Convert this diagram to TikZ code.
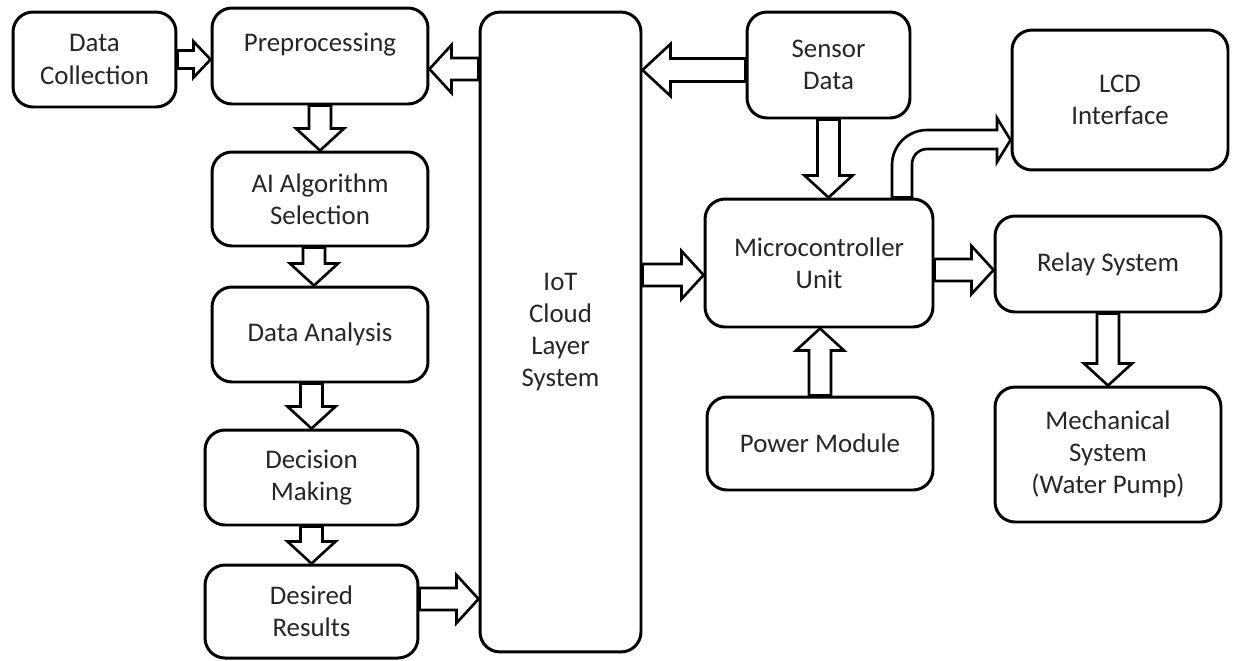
\documentclass[tikz,border=0pt]{standalone}
\usepackage{fontspec}
\setmainfont{Carlito}
\usetikzlibrary{calc}

% outlined block arrow from #1 to #2: shaft half-width, head half-width, head length
\newcommand\blockarrow[5]{%
  \path (#1) coordinate (ba-s) (#2) coordinate (ba-e);
  \coordinate (ba-h) at ($(ba-e)!#5!(ba-s)$);
  \draw[fat] ($(ba-s)!#3!90:(ba-e)$) -- ($(ba-h)!#3!90:(ba-e)$)
    -- ($(ba-h)!#4!90:(ba-e)$) -- (ba-e) -- ($(ba-h)!#4!-90:(ba-e)$)
    -- ($(ba-h)!#3!-90:(ba-e)$) -- ($(ba-s)!#3!-90:(ba-e)$) -- cycle;
}
\newcommand\stdarrow[2]{\blockarrow{#1}{#2}{0.22cm}{0.48cm}{0.44cm}}

\tikzset{
  box/.style={draw=black, line width=1.7pt, rounded corners=0.4cm, fill=white,
    align=center, inner sep=0pt, text=black!85,
    font=\fontsize{15.3pt}{18.3pt}\selectfont},
  fat/.style={draw=black, line width=1.5pt, fill=white, line join=miter}
}

\begin{document}
\begin{tikzpicture}[x=0.02cm, y=-0.02cm]
\useasboundingbox (0,0) rectangle (1239,660);

% left column: processing chain
\node[box, minimum width=3.26cm, minimum height=1.9cm] (dc) at (94.5,59.5) {Data\\Collection};
\node[box, minimum width=4.32cm, minimum height=1.92cm] (pre) at (320,56) {};
\node[text=black!85, font=\fontsize{15.3pt}{18.3pt}\selectfont] (pret) at (320,45) {Preprocessing};
\node[box, minimum width=4.32cm, minimum height=1.88cm] (ai) at (320,199) {AI Algorithm\\Selection};
\node[box, minimum width=4.32cm, minimum height=1.9cm] (da) at (320,334.5) {Data Analysis};
\node[box, minimum width=4.26cm, minimum height=1.9cm] (dm) at (311.5,477.5) {Decision\\Making};
\node[box, minimum width=4.26cm, minimum height=1.86cm] (dr) at (311.5,611.5) {Desired\\Results};

% cloud layer
\node[box, minimum width=3.22cm, minimum height=12.8cm] (iot) at (560.5,332) {IoT\\Cloud\\Layer\\System};

% hardware side
\node[box, minimum width=3.26cm, minimum height=2.12cm] (sd) at (828.5,65) {Sensor\\Data};
\node[box, minimum width=4.32cm, minimum height=2.8cm] (lcd) at (1120,100) {LCD\\Interface};
\node[box, minimum width=4.56cm, minimum height=2.56cm] (mcu) at (819,263) {Microcontroller\\Unit};
\node[box, minimum width=4.52cm, minimum height=1.92cm] (rel) at (1108,264) {Relay System};
\node[box, minimum width=4.52cm, minimum height=1.86cm] (pm) at (820,443.5) {Power Module};
\node[box, minimum width=4.52cm, minimum height=2.7cm] (mech) at (1108,454.5) {Mechanical\\System\\(Water Pump)};

% connectors
\blockarrow{dc.east}{pre.west |- dc.east}{0.18cm}{0.36cm}{0.34cm}
\stdarrow{pre.south}{ai.north}
\stdarrow{[xshift=-0.12cm]ai.south}{[xshift=-0.12cm]da.north}
\stdarrow{dm.north |- da.south}{dm.north}
\stdarrow{dm.south}{dr.north}
\coordinate (a6) at ([yshift=0.25cm]dr.east);
\stdarrow{a6}{iot.west |- a6}
\coordinate (a7) at ([yshift=-0.26cm]pre.east);
\stdarrow{iot.west |- a7}{a7}
\coordinate (a8) at ([yshift=-0.1cm]sd.west);
\blockarrow{a8}{iot.east |- a8}{0.23cm}{0.52cm}{0.56cm}
\stdarrow{sd.south}{mcu.north -| sd.south}
\coordinate (a10) at ([yshift=-0.24cm]mcu.west);
\stdarrow{iot.east |- a10}{a10}
\coordinate (a11) at ([yshift=-0.12cm]rel.west);
\stdarrow{mcu.east |- a11}{a11}
\stdarrow{pm.north}{mcu.south -| pm.north}
\stdarrow{rel.south}{mech.north}

% bent arrow from the microcontroller up to the LCD
\coordinate (lcdtip) at (lcd.west |- 0,140);
\draw[fat] (mcu.north -| 892,0) -- (892,165) arc[start angle=180, end angle=90, radius=0.7cm]
  -- (997,130) -- (997,118) -- (lcdtip) -- (997,162) -- (997,149) -- (927,149)
  arc[start angle=90, end angle=180, radius=0.3cm] -- (mcu.north -| 912,0) -- cycle;
\end{tikzpicture}
\end{document}
